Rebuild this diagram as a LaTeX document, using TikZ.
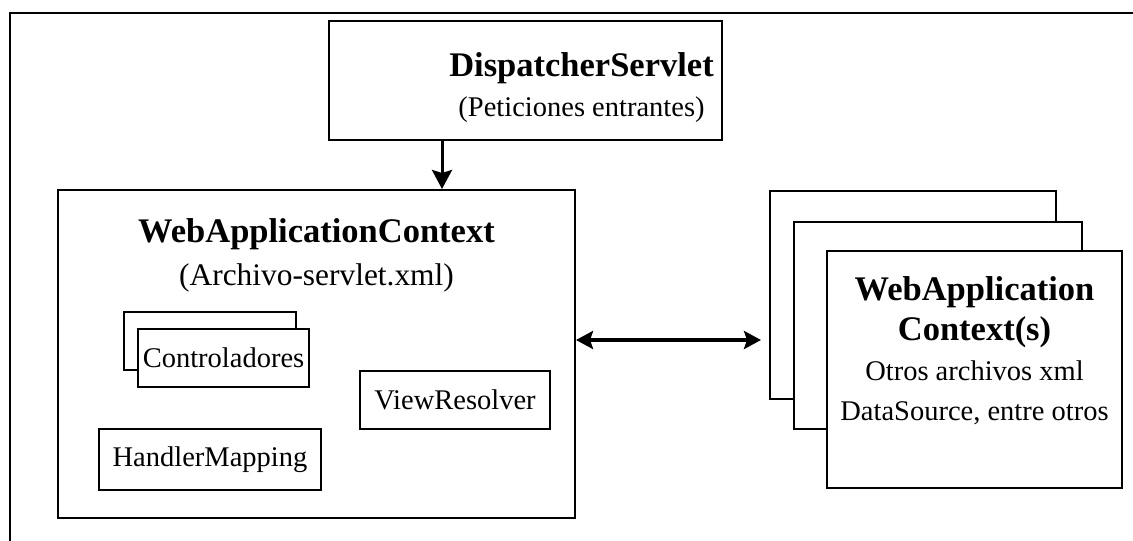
\documentclass[tikz,border=0pt]{standalone}
\usepackage{fontspec}
\setmainfont{Liberation Serif}
\usetikzlibrary{arrows.meta, positioning}

\newcommand{\bigtitle}{\fontsize{17.25}{20}\selectfont\bfseries}
\newcommand{\bodytext}{\fontsize{14.25}{20}\selectfont}

\begin{document}
\begin{tikzpicture}[
    x=1pt, y=1pt,
    box/.style={draw, line width=1pt, fill=white, align=center, font=\bodytext},
    small/.style={box, minimum height=29pt, inner sep=0pt},
    txt/.style={align=center, inner sep=0pt, font=\bodytext},
    arr/.style={-{Stealth[length=9.5pt, width=10pt, inset=1.5pt]}, line width=1.5pt},
    biarr/.style={{Stealth[length=8.5pt, width=9pt, inset=1.5pt]}-{Stealth[length=8.5pt, width=9pt, inset=1.5pt]}, line width=2pt}
]
\useasboundingbox (0,0) rectangle (566.5,-270);
\clip (0,0) rectangle (566.5,-270);
% outer frame, runs off the page at the right and bottom
\draw[line width=1pt] (4.75,-280) -- (4.75,-6.5) -- (580,-6.5);

\node[box, minimum width=196.5pt, minimum height=59.5pt] (dispatcher) at (262.75,-40.25) {};
\node[txt, anchor=north] (disptext) at (290.75,-26) {{\bigtitle DispatcherServlet}\\(Peticiones entrantes)};

\node[box, minimum width=258.5pt, minimum height=164pt] (webctx) at (158.25,-177) {};
\node[txt, below=14.5pt of webctx.north, font=\fontsize{15.7}{21.5}\selectfont] (webtitle)
    {{\bigtitle WebApplicationContext}\\(Archivo-servlet.xml)};

\node[small, minimum width=86pt] (ctrlback) at (105,-170.25) {};
\node[small, minimum width=85.5pt] (ctrl) at (111.75,-179) {Controladores};
\node[small, minimum width=95pt] (viewres) at (227.5,-200) {ViewResolver};
\node[small, minimum width=111pt, minimum height=30.5pt] (handler) at (105,-229.75) {HandlerMapping};

% stacked contexts, back to front
\node[box, minimum width=143pt, minimum height=104pt] (ctxback) at (456.5,-147.5) {};
\node[box, minimum width=144pt, minimum height=103.5pt] (ctxmid) at (469,-162.75) {};
\node[box, minimum width=147.5pt, minimum height=118.5pt] (ctxfront) at (487.25,-184.75) {};
\node[txt, below=13pt of ctxfront.north] (ctxtext)
    {{\bigtitle WebApplication}\\{\bigtitle Context(s)}\\Otros archivos xml\\DataSource, entre otros};

\draw[arr] ([xshift=-41.75pt]dispatcher.south) -- ([xshift=-41.75pt]dispatcher.south |- webctx.north);
\draw[biarr, shorten >=4pt] ([yshift=7pt]webctx.east) -- ([yshift=7pt]webctx.east -| ctxback.west);
\end{tikzpicture}
\end{document}
